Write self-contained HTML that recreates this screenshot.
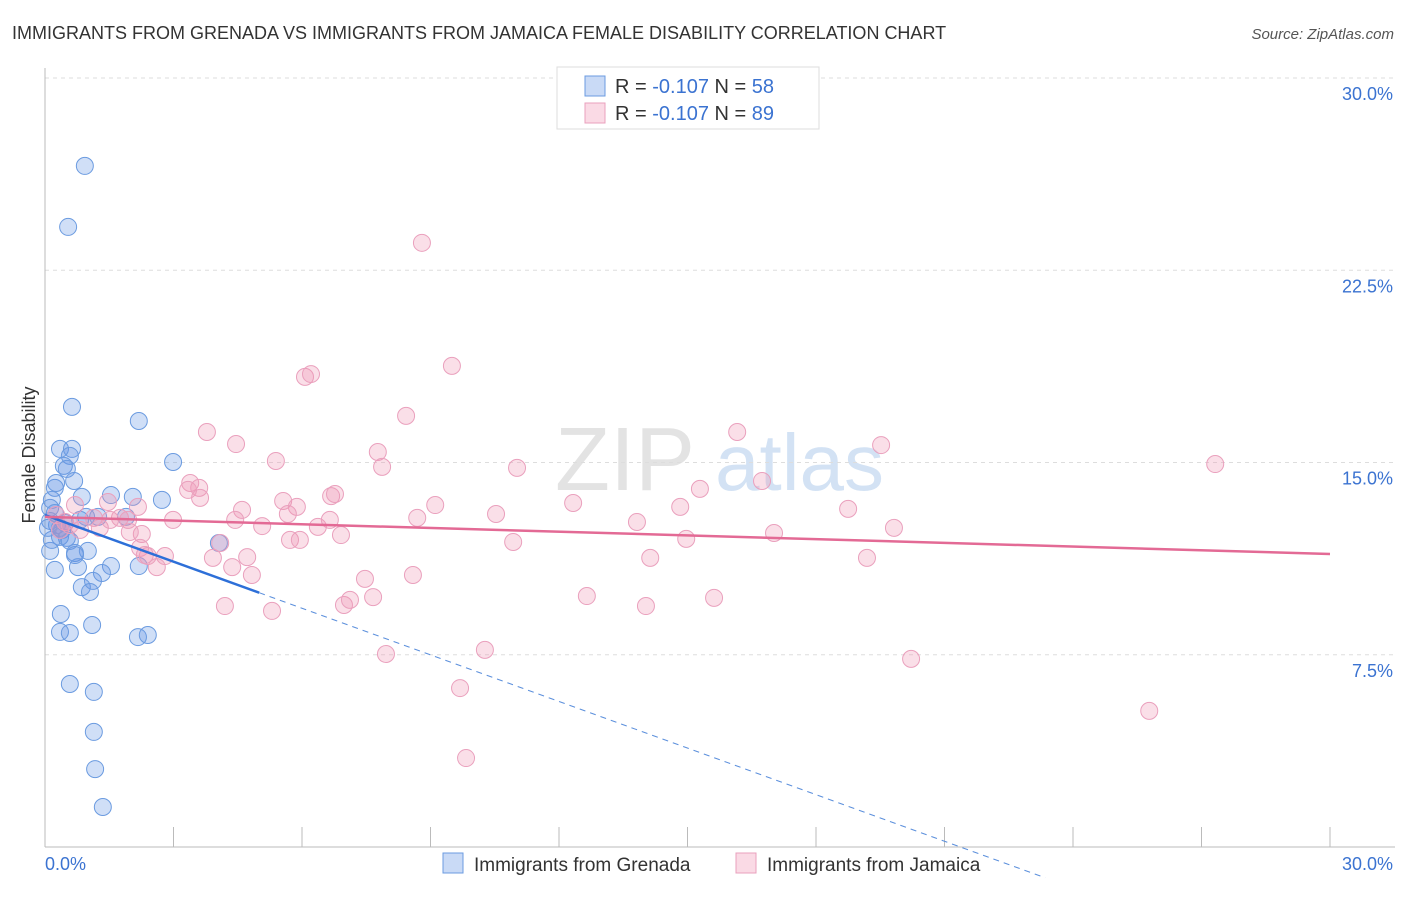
<!DOCTYPE html>
<html><head><meta charset="utf-8"><style>
body{margin:0;background:#fff;font-family:"Liberation Sans",sans-serif;}
svg text{font-family:"Liberation Sans",sans-serif;}
</style></head><body>
<svg id="chart" width="1406" height="892" xmlns="http://www.w3.org/2000/svg">
<text x="12" y="39" font-size="18" fill="#333">IMMIGRANTS FROM GRENADA VS IMMIGRANTS FROM JAMAICA FEMALE DISABILITY CORRELATION CHART</text>
<text x="1394" y="39" font-size="15" fill="#555" font-style="italic" text-anchor="end">Source: ZipAtlas.com</text>
<g><text x="555" y="490" font-size="90" fill="#ddd" font-family="Liberation Serif" opacity="0.8">ZIP</text><text x="715" y="490" font-size="80" fill="#c9dcf2" opacity="0.8">atlas</text></g>
<g id="grid"></g><g id="axes"></g><g id="marks"></g>
<text transform="translate(35,455) rotate(-90)" font-size="18" fill="#333" text-anchor="middle">Female Disability</text>
<g>
<rect x="557" y="67" width="262" height="62" fill="#fff" stroke="#ddd"/>
<rect x="585" y="76" width="20" height="20" fill="rgba(100,150,230,0.35)" stroke="#6b9be0"/>
<rect x="585" y="103" width="20" height="20" fill="rgba(240,150,180,0.35)" stroke="#eaa0bd"/>
<text x="615" y="93" font-size="20" fill="#333">R = <tspan fill="#3b73d1">-0.107</tspan>   N = <tspan fill="#3b73d1">58</tspan></text>
<text x="615" y="120" font-size="20" fill="#333">R = <tspan fill="#3b73d1">-0.107</tspan>   N = <tspan fill="#3b73d1">89</tspan></text>
</g>
<g>
<rect x="443" y="853" width="20" height="20" fill="rgba(100,150,230,0.35)" stroke="#6b9be0"/>
<text x="474" y="871" font-size="19" fill="#333">Immigrants from Grenada</text>
<rect x="736" y="853" width="20" height="20" fill="rgba(240,150,180,0.35)" stroke="#eaa0bd"/>
<text x="767" y="871" font-size="19" fill="#333">Immigrants from Jamaica</text>
</g>
</svg>
<script>
const yTicks=[7.5,15,22.5,30];
const yTickLabels=["7.5%","15.0%","22.5%","30.0%"];
const grenadaX=[0.93,0.54,0.63,2.19,0.35,0.63,0.58,2.99,0.44,0.51,0.68,0.23,0.86,1.54,2.05,2.73,0.16,0.12,0.96,1.24,1.89,0.23,0.12,0.28,0.40,0.35,0.51,0.58,0.12,0.70,1.00,0.23,0.77,1.54,2.19,1.33,0.86,1.12,1.05,0.37,0.35,0.58,1.10,2.17,2.40,4.06,0.58,1.14,1.14,1.17,1.35,0.16,0.07,0.47,0.82,0.26,0.70,0.35];
const grenadaY=[26.57,24.19,17.17,16.62,15.53,15.53,15.26,15.02,14.87,14.75,14.28,14.01,13.66,13.73,13.66,13.54,13.54,13.23,12.88,12.88,12.88,13.03,12.72,12.56,12.37,12.10,12.06,11.94,11.55,11.47,11.55,10.81,10.92,10.96,10.96,10.69,10.14,10.38,9.95,9.09,8.39,8.35,8.66,8.19,8.27,11.86,6.36,6.05,4.49,3.04,1.56,11.98,12.45,12.64,12.76,14.20,11.39,12.45];
const jamaicaX=[8.80,9.50,6.07,6.21,8.43,3.78,4.46,16.16,19.52,27.32,7.77,5.39,7.87,11.02,3.39,3.60,15.29,16.74,6.68,6.77,5.56,5.88,9.11,12.33,4.60,10.53,14.83,18.75,8.69,13.82,19.82,17.02,6.37,5.07,5.67,1.47,1.75,1.14,1.94,2.99,0.47,0.35,1.28,2.26,5.72,6.91,10.93,14.97,3.92,2.22,2.80,2.40,4.72,4.37,4.83,7.47,8.59,14.13,19.19,2.61,4.20,5.30,6.98,7.66,12.65,14.03,15.62,7.96,10.27,20.22,9.69,25.78,9.83,4.09,0.82,0.58,1.52,2.17,3.34,2.33,7.12,5.95,1.98,6.65,4.44,0.26,3.62,0.70];
const jamaicaY=[23.57,18.77,18.34,18.45,16.82,16.19,15.72,16.19,15.68,14.94,15.41,15.06,14.83,14.79,14.20,14.01,13.97,14.28,13.69,13.77,13.50,13.27,13.34,13.42,13.15,12.99,13.27,13.19,12.84,12.68,12.45,12.25,12.49,12.52,12.99,13.46,12.84,12.84,12.76,12.76,12.68,12.37,12.45,12.21,11.98,12.17,11.90,12.02,11.28,11.67,11.35,11.35,11.31,10.92,10.61,10.46,10.61,11.28,11.28,10.92,9.40,9.21,9.44,9.75,9.79,9.40,9.72,7.53,7.69,7.34,6.20,5.31,3.47,11.86,12.37,12.56,12.76,13.27,13.93,11.39,9.64,11.98,12.29,12.76,12.76,12.95,13.62,13.34];
const grenadaTrend=[12.95,-0.606]; // intercept, slope
const jamaicaTrend=[12.88,-0.0483];
const NS="http://www.w3.org/2000/svg";
const X=v=>45+v/30*1285, Y=v=>847-v/30*769;
function mk(tag,attrs,parent){const e=document.createElementNS(NS,tag);for(const k in attrs)e.setAttribute(k,attrs[k]);document.getElementById(parent).appendChild(e);return e;}
yTicks.forEach((t,i)=>{
 const g=mk('line',{x1:45,x2:1395,y1:Y(t),y2:Y(t),stroke:'#ddd','stroke-dasharray':'4,4'},'grid');
 
 
 const l=mk('text',{x:1393,y:Y(t)+22,'font-size':18,fill:'#3b73d1','text-anchor':'end'},'axes');
 l.textContent=yTickLabels[i];
 
 
});
const ax=mk('line',{x1:45,x2:45,y1:68,y2:847,stroke:'#bbb'},'axes');


const bx=mk('line',{x1:45,x2:1395,y1:847,y2:847,stroke:'#bbb'},'axes');


for(let i=0;i<=10;i++){const t=mk('line',{x1:X(i*3),x2:X(i*3),y1:827,y2:847,stroke:'#bbb'},'axes');
 
 }
const x0=mk('text',{x:45,y:870,'font-size':18,fill:'#3b73d1'},'axes');x0.textContent='0.0%';


const x1=mk('text',{x:1393,y:870,'font-size':18,fill:'#3b73d1','text-anchor':'end'},'axes');x1.textContent='30.0%';


grenadaX.forEach((v,i)=>{const c=mk('circle',{cx:X(v),cy:Y(grenadaY[i]),r:8.5,fill:'rgba(100,150,230,0.3)',stroke:'#6b9be0','stroke-width':1},'marks');
 
 });
jamaicaX.forEach((v,i)=>{const c=mk('circle',{cx:X(v),cy:Y(jamaicaY[i]),r:8.5,fill:'rgba(240,150,180,0.3)',stroke:'#eaa0bd','stroke-width':1},'marks');
 
 });
const gt=v=>grenadaTrend[0]+grenadaTrend[1]*v;
const l1=mk('line',{x1:X(0),y1:Y(gt(0)),x2:X(5),y2:Y(gt(5)),stroke:'#2d6fd8','stroke-width':2.5},'marks');


const xe=23.35;
const l2=mk('line',{x1:X(5),y1:Y(gt(5)),x2:X(xe),y2:Y(gt(xe)),stroke:'#5b8fdc','stroke-width':1,'stroke-dasharray':'6,5'},'marks');


const jt=v=>jamaicaTrend[0]+jamaicaTrend[1]*v;
const l3=mk('line',{x1:X(0),y1:Y(jt(0)),x2:X(30),y2:Y(jt(30)),stroke:'#e36a95','stroke-width':2.5},'marks');


</script>
</body></html>
